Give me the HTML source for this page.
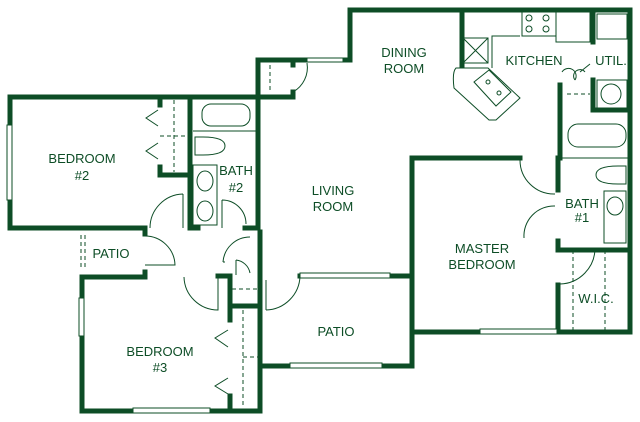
<html><body style="margin:0;background:#fff">
<svg width="640" height="422" viewBox="0 0 640 422" xmlns="http://www.w3.org/2000/svg" style="display:block">
<g fill="none" stroke="#0d4d26" stroke-linecap="square">
<g stroke-width="5">
<path d="M10 97H258V60H307"/>
<path d="M343 60H350"/>
<path d="M293 60v5M293 92v5"/>
<path d="M258 97H293"/>
<path d="M350 60V10H630V332H558"/>
<path d="M10 97V228H145v6"/>
<path d="M145 272v5H82V411H260V273"/>
<path d="M190 97V228H198M245 228H258V97"/>
<path d="M160 97v8M160 167v8H190"/>
<path d="M462 10V65"/>
<path d="M593 10V42M593 80V110H630"/>
<path d="M560 85V158"/>
<path d="M412 158H520M412 158V366H260V232M558 158V190M558 241v9H630M558 285V332H412"/>
<path d="M218 276H230V320M230 396V411M230 306H260"/>
<path d="M300 276H412"/>
</g>
</g>
<g fill="#fff" stroke="#0d4d26" stroke-width="1">
<rect x="133" y="408" width="77" height="5"/>
<rect x="290" y="363" width="92" height="5"/>
<rect x="300" y="273" width="90" height="5"/>
<rect x="480" y="329" width="77" height="5"/>
<rect x="7" y="125" width="5" height="75"/>
<rect x="79" y="298" width="5" height="38"/>
<rect x="307" y="58" width="36" height="4"/>
</g>
<g fill="none" stroke="#0d4d26" stroke-width="1">
<g stroke-dasharray="4 3">
<path d="M174 100V172M160 136H190M270 65V92M243 310V408M243 357H258M232 289H258M567 94H590M573 250V330M605 250V330M81 235V270M85 235V270"/>
</g>
<path d="M158 110L146 118L158 126M158 143L146 151L158 159"/>
<path d="M228 330L215 338L228 347M228 378L215 386L228 394"/>
<path d="M307 63A28 28 0 0 1 293 92"/>
<path d="M183 194A34 34 0 0 0 150 228M183 194V228"/>
<path d="M222 200A24 24 0 0 1 246 224M222 200V228"/>
<path d="M145 236A30 30 0 0 1 175 265H145"/>
<path d="M223 262A27 27 0 0 1 250 237M223 262h2"/>
<path d="M184 277A34 34 0 0 0 218 310V277"/>
<path d="M236 260A16 16 0 0 1 250 273M236 260V275"/>
<path d="M266 310A35 35 0 0 0 300 276M266 280V310"/>
<path d="M520 160A34 34 0 0 0 555 194"/>
<path d="M524 238A30 30 0 0 1 555 206"/>
<path d="M560 248H595A36 36 0 0 1 560 284"/>
<path d="M562 72A6 6 0 0 1 575 80M575 80A6 6 0 0 1 585 72M580 72l10 -8"/>
<rect x="463" y="38" width="25" height="25"/>
<path d="M463 38L488 63M488 38L463 63"/>
<rect x="522" y="12" width="34" height="24"/>
<circle cx="529" cy="18" r="3"/><circle cx="546" cy="18" r="3"/><circle cx="529" cy="29" r="3"/><circle cx="546" cy="29" r="3"/>
<rect x="556" y="12" width="34" height="30"/>
<rect x="597" y="14" width="30" height="25"/>
<rect x="597" y="80" width="30" height="28"/><circle cx="611" cy="94" r="10"/>
<path d="M492 68V36H520M456 68L488 68L520 98L496 120L489 120L454 88Q452 72 456 68Z"/>
<path d="M474 82l15 -12 22 22 -15 14z"/>
<circle cx="488" cy="82" r="2"/><circle cx="499" cy="93" r="2"/>
<rect x="202" y="104" width="48" height="22" rx="9"/>
<path d="M193 131H256"/>
<path d="M195 137h8q22 0 22 9q0 9-22 9h-8z"/>
<rect x="193" y="165" width="24" height="60"/>
<ellipse cx="205" cy="181" rx="8" ry="10"/><ellipse cx="205" cy="211" rx="8" ry="10"/>
<rect x="568" y="124" width="58" height="23" rx="10"/>
<path d="M562 158H628"/>
<path d="M626 166h-8q-22 0-22 9q0 9 22 9h8z"/>
<rect x="604" y="191" width="22" height="52"/><ellipse cx="615" cy="206" rx="8" ry="9"/>
</g>
<g fill="#0d4d26" font-family="Liberation Sans, sans-serif" font-size="13" text-anchor="middle">
<text x="82" y="163">BEDROOM</text><text x="82" y="180">#2</text>
<text x="236" y="175">BATH</text><text x="236" y="192">#2</text>
<text x="333" y="195">LIVING</text><text x="333" y="211">ROOM</text>
<text x="404" y="57">DINING</text><text x="404" y="73">ROOM</text>
<text x="534" y="65">KITCHEN</text>
<text x="611" y="65">UTIL.</text>
<text x="582" y="208">BATH</text><text x="582" y="222">#1</text>
<text x="482" y="253">MASTER</text><text x="482" y="269">BEDROOM</text>
<text x="596" y="303">W.I.C.</text>
<text x="111" y="258">PATIO</text>
<text x="336" y="336">PATIO</text>
<text x="160" y="356">BEDROOM</text><text x="160" y="372">#3</text>
</g>
</svg>
</body></html>
